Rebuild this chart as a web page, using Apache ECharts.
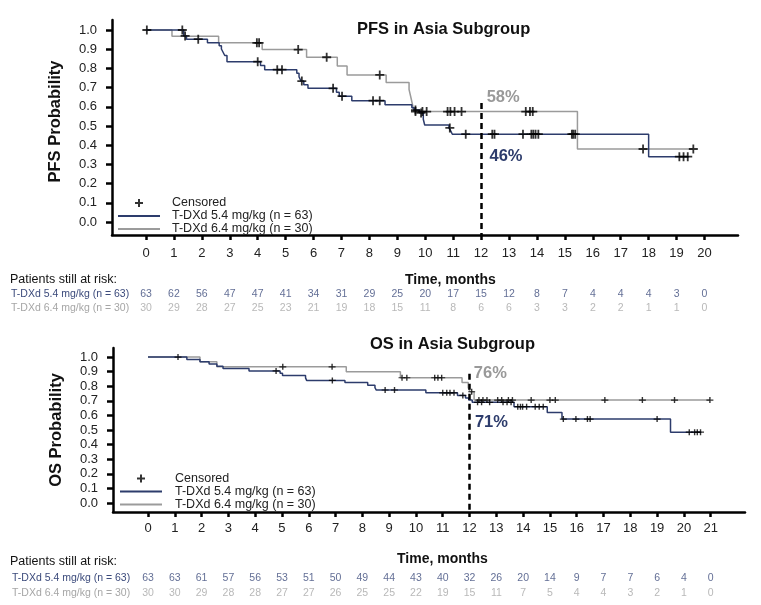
<!DOCTYPE html>
<html><head><meta charset="utf-8">
<script src="https://cdn.jsdelivr.net/npm/echarts@6/dist/echarts.min.js"></script>
<style>html,body{margin:0;padding:0;background:#fff}#c{width:761px;height:605px}</style>
</head><body><div id="c"></div>
<script>
// ---------- DATA ----------
const armNames = ['T-DXd 5.4 mg/kg (n = 63)', 'T-DXd 6.4 mg/kg (n = 30)'];
const yTicks = [0, 0.1, 0.2, 0.3, 0.4, 0.5, 0.6, 0.7, 0.8, 0.9, 1.0];
const pfsXTicks = [0,1,2,3,4,5,6,7,8,9,10,11,12,13,14,15,16,17,18,19,20];
const osXTicks = [0,1,2,3,4,5,6,7,8,9,10,11,12,13,14,15,16,17,18,19,20,21];

// PFS Kaplan-Meier steps (time in months, survival after step)
const pfsBlueT = [0, 1.35, 1.45, 2.2, 2.62, 2.7, 2.76, 2.82, 2.9, 4.1, 4.25, 5.4, 5.48, 5.55, 5.65, 5.8, 6.82, 6.92, 7.37, 8.56, 9.52, 9.6, 9.8, 9.93, 9.98, 10.85, 10.92, 10.97, 18.0, 19.45];
const pfsBlueS = [1.0, 0.969, 0.952, 0.934, 0.918, 0.901, 0.884, 0.867, 0.835, 0.815, 0.793, 0.775, 0.755, 0.734, 0.715, 0.696, 0.675, 0.655, 0.632, 0.610, 0.595, 0.583, 0.568, 0.535, 0.505, 0.490, 0.472, 0.457, 0.340, 0.340];
const pfsBlueCens = [0.03, 1.3, 1.4, 1.87, 4.0, 4.7, 4.87, 5.58, 6.7, 7.02, 8.13, 8.37, 9.65, 9.85, 10.88, 11.45, 12.4, 12.48, 13.5, 13.8, 13.87, 13.95, 14.05, 15.25, 15.3, 15.37, 19.1, 19.25, 19.4];
const pfsGrayT = [0, 0.93, 2.6, 4.16, 5.75, 6.85, 7.2, 8.6, 9.42, 9.48, 9.54, 9.6, 15.45, 19.6];
const pfsGrayS = [1.0, 0.967, 0.933, 0.898, 0.858, 0.812, 0.766, 0.726, 0.690, 0.652, 0.613, 0.575, 0.380, 0.380];
const pfsGrayCens = [3.97, 4.05, 5.45, 6.47, 8.37, 9.65, 9.9, 10.05, 10.8, 10.9, 11.05, 11.3, 13.6, 13.75, 13.85, 17.8, 19.6];

// OS Kaplan-Meier steps
const osBlueT = [0, 1.45, 1.94, 2.28, 2.57, 2.8, 3.77, 4.93, 5.02, 5.88, 5.92, 7.35, 8.2, 8.47, 8.52, 10.37, 11.55, 11.85, 11.97, 12.1, 13.66, 14.9, 15.45, 19.5, 20.65];
const osBlueS = [1.0, 0.984, 0.968, 0.952, 0.937, 0.921, 0.905, 0.889, 0.874, 0.857, 0.840, 0.825, 0.806, 0.790, 0.774, 0.755, 0.737, 0.720, 0.705, 0.690, 0.660, 0.620, 0.575, 0.485, 0.485];
const osBlueCens = [4.78, 6.88, 8.85, 9.2, 11.0, 11.15, 11.27, 11.42, 11.75, 12.3, 12.45, 12.75, 13.25, 13.4, 13.55, 13.8, 13.9, 13.98, 14.13, 14.45, 14.6, 14.75, 15.5, 15.97, 16.4, 16.5, 19.0, 20.2, 20.4, 20.5, 20.62];
const osGrayT = [0, 1.94, 2.57, 7.4, 9.42, 11.72, 11.95, 12.02, 12.17, 20.97];
const osGrayS = [1.0, 0.967, 0.933, 0.900, 0.858, 0.826, 0.790, 0.762, 0.705, 0.705];
const osGrayCens = [1.12, 5.03, 6.87, 9.48, 9.66, 10.7, 10.82, 10.96, 12.08, 12.35, 12.5, 12.65, 13.05, 13.2, 13.45, 13.6, 14.3, 15.0, 15.2, 17.05, 18.45, 19.65, 20.97];

// Patients at risk
const pfsRiskBlue = [63,62,56,47,47,41,34,31,29,25,20,17,15,12,8,7,4,4,4,3,0];
const pfsRiskGray = [30,29,28,27,25,23,21,19,18,15,11,8,6,6,3,3,2,2,1,1,0];
const osRiskBlue = [63,63,61,57,56,53,51,50,49,44,43,40,32,26,20,14,9,7,7,6,4,0];
const osRiskGray = [30,30,29,28,28,27,27,26,25,25,22,19,15,11,7,5,4,4,3,2,1,0];

// 12-month landmark labels
const landmarkMonth = 12;
const pfsLandmark = ['58%', '46%'];
const osLandmark = ['76%', '71%'];

// ---------- STYLE ----------
const FF = '"Liberation Sans", Arial, Helvetica, sans-serif';
const BLUE = '#2d3c6c', GRAY = '#9b9b9b';
const RISK_BLUE = '#3b4a7b', RISK_GRAY = '#a6a6a6';
const plusSym = 'path://M4,0H6V10H4ZM0,4H10V6H0Z';
const lineIcon = 'path://M0,0h0.01v0.01h-0.01zM0,4.6h42v1.8h-42zM41.99,10.99h0.01v0.01h-0.01z';
const plusIcon = 'path://M0,0h0.01v0.01h-0.01zM20,1.5h2v8h-2zM17,4.5h8v2h-8zM41.99,10.99h0.01v0.01h-0.01z';
const lineIcon2 = 'path://M0,0h0.01v0.01h-0.01zM0,5.1h42v1.8h-42zM41.99,11.99h0.01v0.01h-0.01z';
const plusIcon2 = 'path://M0,0h0.01v0.01h-0.01zM20,2h2v8h-2zM17,5h8v2h-8zM41.99,11.99h0.01v0.01h-0.01z';

function steps(T, S) { return T.map((t, i) => [t, S[i]]); }
function survAt(T, S, t) { let v = S[0]; for (let i = 0; i < T.length; i++) { if (T[i] <= t) v = S[i]; } return v; }
function cens(T, S, C) { return C.map(t => [t, survAt(T, S, t)]); }

const pfsY = [-0.068, 1.052], osY = [-0.062, 1.062];
const pfsX = [-1.218, 21.2], osX = [-1.306, 22.28];

function xAxisMain(gi, range, ticks, margin) {
  return {
    gridIndex: gi, type: 'value', min: range[0], max: range[1],
    axisLine: { show: true, onZero: false, lineStyle: { color: '#000', width: 2.5 } },
    axisTick: { show: true, customValues: ticks, length: 5, lineStyle: { color: '#000', width: 2.5 } },
    axisLabel: { customValues: ticks, margin: margin, fontSize: 13, color: '#222', fontFamily: FF },
    splitLine: { show: false }
  };
}
function yAxisMain(gi, range, name, gap, pad, labelPad) {
  return {
    gridIndex: gi, type: 'value', min: range[0], max: range[1],
    axisLine: { show: true, onZero: false, lineStyle: { color: '#000', width: 2.5 } },
    axisTick: { show: true, customValues: yTicks, length: 6, lineStyle: { color: '#000', width: 2.5 } },
    axisLabel: { customValues: yTicks, formatter: v => v.toFixed(1), margin: 15, fontSize: 13, color: '#222', fontFamily: FF, padding: labelPad },
    splitLine: { show: false },
    name: name, nameLocation: 'middle', nameRotate: 90, nameGap: gap,
    nameTextStyle: { fontSize: 16.5, fontWeight: 'bold', color: '#111', fontFamily: FF, padding: pad }
  };
}
function xAxisRisk(gi, range) {
  return { gridIndex: gi, type: 'value', min: range[0], max: range[1], show: false, splitLine: { show: false } };
}
function yAxisRisk(gi) {
  return {
    gridIndex: gi, type: 'category', data: armNames, inverse: true,
    axisLine: { show: false }, axisTick: { show: false }, splitLine: { show: false },
    axisLabel: {
      interval: 0, hideOverlap: false,
      align: 'left', margin: 101, fontSize: 10.5, fontFamily: FF,
      formatter: (v, i) => (i === 0 ? '{b|' : '{g|') + v + '}',
      rich: { b: { color: RISK_BLUE, fontSize: 10.5, fontFamily: FF }, g: { color: RISK_GRAY, fontSize: 10.5, fontFamily: FF } }
    }
  };
}
function kmLine(name, T, S, color, xi, extra) {
  return Object.assign({
    type: 'line', name: name, xAxisIndex: xi, yAxisIndex: xi, data: steps(T, S), step: 'end',
    symbol: 'none', silent: true, lineStyle: { color: color, width: 1.5 }, itemStyle: { color: color }, z: 3
  }, extra || {});
}
function censSeries(T, S, C, xi, size) {
  return {
    type: 'scatter', name: 'Censored', xAxisIndex: xi, yAxisIndex: xi, data: cens(T, S, C),
    symbol: plusSym, symbolSize: size, itemStyle: { color: '#000' }, silent: true, z: 5
  };
}
function riskSeries(ticks, vals, row, color, gi) {
  return {
    type: 'scatter', name: 'risk' + gi + row, xAxisIndex: gi, yAxisIndex: gi,
    data: ticks.map((t, i) => [t, armNames[row], vals[i]]),
    symbol: 'circle', symbolSize: 1, itemStyle: { color: 'rgba(0,0,0,0)' }, silent: true,
    label: { show: true, position: 'inside', formatter: p => String(p.value[2]), color: color, fontSize: 10.5, fontFamily: FF }
  };
}
function landmarkPoint(text, x, y, color) {
  return {
    symbol: 'circle', symbolSize: 0, silent: true,
    label: { show: true, position: 'right', distance: 0, formatter: text, color: color, fontSize: 16.5, fontWeight: 'bold', fontFamily: FF },
    data: [{ coord: [x, y] }]
  };
}
function dashLine(top, bottom) {
  return {
    symbol: ['none', 'none'], silent: true, label: { show: false },
    lineStyle: { color: '#000', width: 2.5, type: [6, 4] },
    data: [[{ coord: [landmarkMonth, top] }, { coord: [landmarkMonth, bottom] }]]
  };
}
function legendCfg(left, top, h, icons, pad) {
  return {
    left: left, top: top, orient: 'vertical', itemWidth: 42, itemHeight: h, itemGap: 0, padding: 0,
    selectedMode: false, symbolKeepAspect: false, itemStyle: { borderWidth: 0 },
    textStyle: { fontSize: 12.5, color: '#222', fontFamily: FF, lineHeight: h, padding: [0, 0, 0, pad] },
    data: [{ name: 'Censored', icon: icons[0] }, { name: armNames[0], icon: icons[1] }, { name: armNames[1], icon: icons[1] }]
  };
}
function titleCfg(text, left, top, size, weight) {
  return { text: text, left: left, top: top, padding: 0, textStyle: { fontSize: size, fontWeight: weight, color: '#111', fontFamily: FF } };
}

const option = {
  animation: false,
  backgroundColor: '#fff',
  title: [
    titleCfg('PFS in Asia Subgroup', 357, 21, 16.5, 'bold'),
    titleCfg('OS in Asia Subgroup', 370, 336, 16.5, 'bold'),
    titleCfg('Time, months', 405, 273, 14, 'bold'),
    titleCfg('Time, months', 397, 552, 14, 'bold'),
    titleCfg('Patients still at risk:', 10, 273, 12.5, 'normal'),
    titleCfg('Patients still at risk:', 10, 555, 12.5, 'normal')
  ],
  legend: [
    legendCfg(118, 196.5, 11, [plusIcon, lineIcon], 7),
    legendCfg(120, 472, 12, [plusIcon2, lineIcon2], 8)
  ],
  grid: [
    { left: 112, top: 20, width: 626, height: 215, outerBoundsMode: 'none' },
    { left: 113, top: 348, width: 632, height: 164, outerBoundsMode: 'none' },
    { left: 112, top: 287, width: 626, height: 28, outerBoundsMode: 'none' },
    { left: 113, top: 570.5, width: 632, height: 30, outerBoundsMode: 'none' }
  ],
  xAxis: [
    xAxisMain(0, pfsX, pfsXTicks, 12),
    xAxisMain(1, osX, osXTicks, 10),
    xAxisRisk(2, pfsX),
    xAxisRisk(3, osX)
  ],
  yAxis: [
    yAxisMain(0, pfsY, 'PFS Probability', 48, [0, 0, 0, 12], 0),
    yAxisMain(1, osY, 'OS Probability', 48, [0, 0, 0, 0], [10, 0, 0, 0]),
    yAxisRisk(2),
    yAxisRisk(3)
  ],
  series: [
    kmLine(armNames[1], pfsGrayT, pfsGrayS, GRAY, 0, { markPoint: landmarkPoint(pfsLandmark[0], 12.2, 0.651, '#999999') }),
    kmLine(armNames[0], pfsBlueT, pfsBlueS, BLUE, 0, { markPoint: landmarkPoint(pfsLandmark[1], 12.3, 0.339, BLUE), markLine: dashLine(0.62, pfsY[0]) }),
    censSeries(pfsBlueT, pfsBlueS, pfsBlueCens, 0, [9, 9]),
    censSeries(pfsGrayT, pfsGrayS, pfsGrayCens, 0, [9, 9]),
    kmLine(armNames[1], osGrayT, osGrayS, GRAY, 1, { markPoint: landmarkPoint(osLandmark[0], 12.16, 0.89, '#999999') }),
    kmLine(armNames[0], osBlueT, osBlueS, BLUE, 1, { markPoint: landmarkPoint(osLandmark[1], 12.2, 0.555, BLUE), markLine: dashLine(0.885, osY[0]) }),
    censSeries(osBlueT, osBlueS, osBlueCens, 1, [7, 6]),
    censSeries(osGrayT, osGrayS, osGrayCens, 1, [7, 6]),
    riskSeries(pfsXTicks, pfsRiskBlue, 0, RISK_BLUE, 2),
    riskSeries(pfsXTicks, pfsRiskGray, 1, RISK_GRAY, 2),
    riskSeries(osXTicks, osRiskBlue, 0, RISK_BLUE, 3),
    riskSeries(osXTicks, osRiskGray, 1, RISK_GRAY, 3)
  ]
};
const chart = echarts.init(document.getElementById('c'), null, { renderer: 'canvas' });
chart.setOption(option);
</script>
</body></html>
